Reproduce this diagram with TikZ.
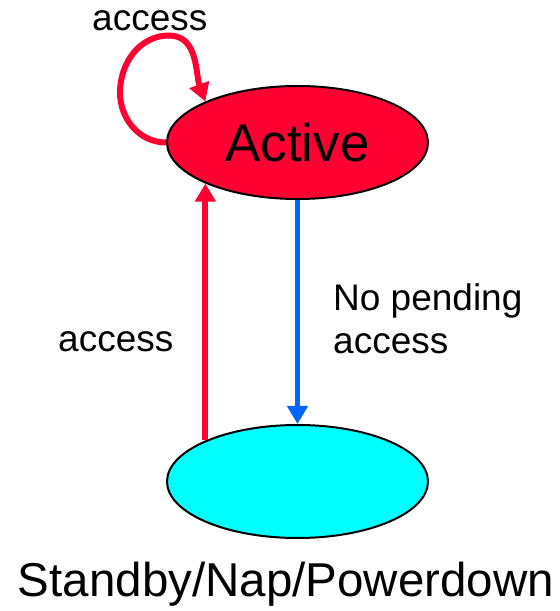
\documentclass[tikz,border=0pt]{standalone}
\usepackage{fontspec}
\setmainfont{Liberation Sans}
\usepackage{tikz}
\usetikzlibrary{positioning}
\usetikzlibrary{shapes.geometric}
\usetikzlibrary{arrows.meta}

\definecolor{activered}{RGB}{255,0,51}
\definecolor{standbycyan}{RGB}{0,255,255}
\definecolor{idleblue}{RGB}{0,102,255}

\tikzset{
	state/.style   = {ellipse, draw=black, line width=2pt, inner sep=0pt,
	                  minimum width=261pt, minimum height=113pt},
	wakeup/.style  = {draw=activered, line width=6pt,
	                  -{Triangle[length=18pt,width=20pt]}},
	sleepy/.style  = {draw=idleblue, line width=5pt,
	                  -{Triangle[length=18pt,width=20pt]}},
	lbl/.style     = {inner sep=0pt, font=\fontsize{37}{42}\selectfont}
}

\begin{document}
\begin{tikzpicture}[x=1pt, y=1pt]
	
	% picture frame, same size as the original slide cut-out
	\useasboundingbox (0,0) rectangle (560,611);
	
	% the two states
	\node[state, fill=activered] (active) at (297.5,468.5)
		{\fontsize{53}{60}\selectfont Active};
	\node[state, fill=standbycyan] (standby) at (297.5,129.5) {};
	
	% state name under the lower ellipse
	\node[inner sep=0pt, anchor=base, font=\fontsize{47.5}{54}\selectfont]
		(standbyname) at (286,14) {Standby/Nap/Powerdown};
	
	%%%%%%%%%%%%%%%%%%%%%%%%%%%%%%%%%%%%%%%%%%%%%%%%%%%%%%%%%%%%%%
	% transitions
	
	% self loop on Active
	\draw[wakeup] (active.west)
		to[out=180, in=-90] ++(-46,50)
		to[out=90, in=180]  ++(49,57)
		to[out=0, in=110]   (active.156);
	
	% wake up
	\draw[wakeup] (standby.156) -- (active.204);
	
	% go to sleep
	\draw[sleepy] (active.south) -- (standby.north);
	
	% labels
	\node[lbl, anchor=base west] (looplbl) at (92,580) {access};
	\node[lbl, anchor=base west] (wakelbl) at (58,259) {access};
	\node[lbl, anchor=base west] (sleeplbl) at (333,300) {No pending};
	\node[lbl, anchor=base west] (sleeplbltwo) at (333,257) {access};
	
\end{tikzpicture}
\end{document}
